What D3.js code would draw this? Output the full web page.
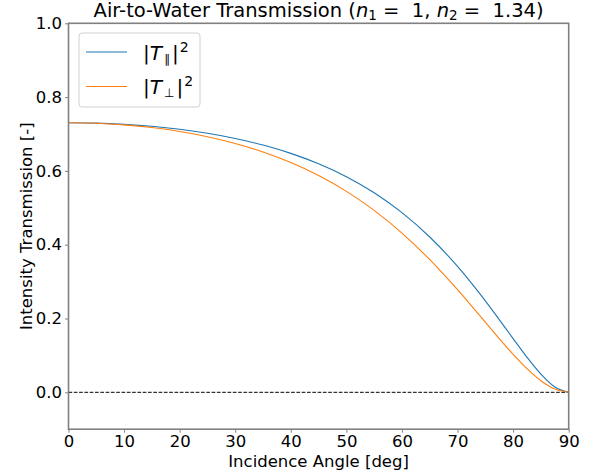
<!DOCTYPE html>
<html>
<head>
<meta charset="utf-8">
<script src="https://cdn.jsdelivr.net/npm/d3@7"></script>
<style>
  body { margin: 0; background: #fff; }
  svg text { font-family: "DejaVu Sans", sans-serif; fill: #000; white-space: pre; }
</style>
</head>
<body>
<div id="chart"></div>
<script>
// incidence angles [deg] where the curves were read
const angles = [0, 5, 10, 15, 20, 25, 30, 35, 40, 45, 50, 55, 60, 65, 70, 72.5, 75, 77.5, 80, 82.5, 85, 87.5, 90];
// |T_par|^2
const tPar = [0.7305, 0.7295, 0.7262, 0.7208, 0.7128, 0.7020, 0.6879, 0.6701, 0.6475, 0.6194, 0.5843,
  0.5408, 0.4869, 0.4209, 0.3411, 0.2960, 0.2478, 0.1971, 0.1454, 0.0948, 0.0492, 0.0145, 0];
// |T_perp|^2
const tPerp = [0.7305, 0.7291, 0.7248, 0.7175, 0.7069, 0.6927, 0.6743, 0.6512, 0.6225, 0.5873, 0.5445,
  0.4929, 0.4314, 0.3595, 0.2780, 0.2345, 0.1900, 0.1456, 0.1030, 0.0640, 0.0314, 0.0087, 0];
const xTicks = [0, 10, 20, 30, 40, 50, 60, 70, 80, 90];
const yTicks = [0.0, 0.2, 0.4, 0.6, 0.8, 1.0];

const width = 594, height = 475;
const margin = {top: 23.3, right: 25.3, bottom: 45.8, left: 68.5};

const svg = d3.select("#chart").append("svg")
  .attr("width", width)
  .attr("height", height);

const x = d3.scaleLinear().domain([0, 90]).range([margin.left, width - margin.right]);
const y = d3.scaleLinear().domain([-0.1, 1.0]).range([height - margin.bottom, margin.top]);

// zero line
svg.append("line")
  .attr("x1", x(0)).attr("x2", x(90))
  .attr("y1", y(0)).attr("y2", y(0))
  .attr("stroke", "#000").attr("stroke-width", 1)
  .attr("stroke-dasharray", "3.7,1.6");

const line = d3.line()
  .x((d, i) => x(angles[i]))
  .y(d => y(d))
  .curve(d3.curveMonotoneX);

svg.append("path").datum(tPar)
  .attr("d", line).attr("fill", "none")
  .attr("stroke", "#1f77b4").attr("stroke-width", 1.1);
svg.append("path").datum(tPerp)
  .attr("d", line).attr("fill", "none")
  .attr("stroke", "#ff7f0e").attr("stroke-width", 1.1);

// axes
const spine = "#808080";
const xAxis = svg.append("g")
  .attr("transform", "translate(0," + y(-0.1) + ")")
  .call(d3.axisBottom(x).tickValues(xTicks).tickSize(3.5).tickPadding(3).tickFormat(d3.format("d")));
const yAxis = svg.append("g")
  .attr("transform", "translate(" + x(0) + ",0)")
  .call(d3.axisLeft(y).tickValues(yTicks).tickSize(3.5).tickPadding(3).tickFormat(d3.format(".1f")));
[xAxis, yAxis].forEach(g => {
  g.select(".domain").remove();
  g.selectAll(".tick line").attr("stroke", spine).attr("stroke-width", 1);
  g.selectAll(".tick text").style("font-size", "16.5px").style("font-family", "DejaVu Sans");
});

// spines
svg.append("rect")
  .attr("x", x(0)).attr("y", y(1.0))
  .attr("width", x(90) - x(0)).attr("height", y(-0.1) - y(1.0))
  .attr("fill", "none").attr("stroke", spine).attr("stroke-width", 1.6);

// title
const title = svg.append("text")
  .attr("x", (x(0) + x(90)) / 2).attr("y", 17)
  .attr("text-anchor", "middle").style("font-size", "19.5px");
title.append("tspan").text("Air-to-Water Transmission (");
title.append("tspan").attr("font-style", "italic").text("n");
title.append("tspan").attr("dy", 3).style("font-size", "13.5px").text("1");
title.append("tspan").attr("dy", -3).text(" =  1, ");
title.append("tspan").attr("font-style", "italic").text("n");
title.append("tspan").attr("dy", 3).style("font-size", "13.5px").text("2");
title.append("tspan").attr("dy", -3).text(" =  1.34)");

// axis labels
svg.append("text")
  .attr("x", (x(0) + x(90)) / 2).attr("y", 467)
  .attr("text-anchor", "middle").style("font-size", "16.5px")
  .text("Incidence Angle [deg]");
svg.append("text")
  .attr("transform", "translate(32," + (y(-0.1) + y(1.0)) / 2 + ") rotate(-90)")
  .attr("text-anchor", "middle").style("font-size", "16.5px")
  .text("Intensity Transmission [-]");

// legend
const legend = svg.append("g");
legend.append("rect")
  .attr("x", 79).attr("y", 33).attr("width", 121).attr("height", 74)
  .attr("rx", 3).attr("fill", "#fff").attr("fill-opacity", 0.8)
  .attr("stroke", "#d0d0d0").attr("stroke-width", 1);
const entries = [
  {sub: "\u2225", color: "#1f77b4", yy: 52},
  {sub: "\u22a5", color: "#ff7f0e", yy: 86.5}
];
entries.forEach(e => {
  legend.append("line")
    .attr("x1", 86).attr("x2", 127).attr("y1", e.yy).attr("y2", e.yy)
    .attr("stroke", e.color).attr("stroke-width", 1.1);
  const t = legend.append("text").attr("x", 143).attr("y", e.yy + 7.5)
    .style("font-size", "20px");
  t.append("tspan").text("|");
  t.append("tspan").attr("font-style", "italic").text("T");
  t.append("tspan").attr("dx", 2).attr("dy", 3).style("font-size", "12px").text(e.sub);
  t.append("tspan").attr("dx", 2).attr("dy", -3).text("|");
  t.append("tspan").attr("dx", 1).attr("dy", -8).style("font-size", "14px").text("2");
});
</script>
</body>
</html>
